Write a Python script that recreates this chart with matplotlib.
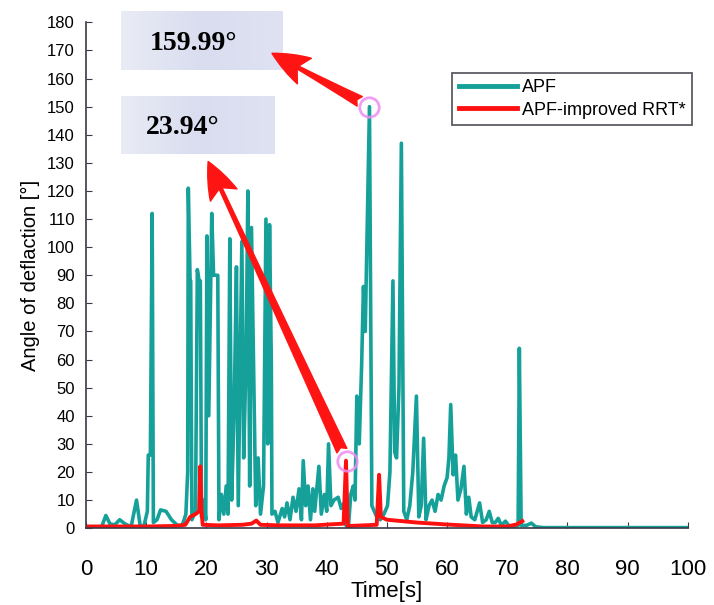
import numpy as np
import matplotlib.pyplot as plt
from matplotlib.colors import LinearSegmentedColormap

# APF curve (time in s, deflection angle in deg)
apf_t = [0, 1.5, 2.6, 3.3, 4.0, 4.8, 5.6, 6.5, 7.5, 8.4, 9.0, 9.6, 10.2, 10.35,
         10.7, 11.0, 11.2, 11.8, 12.4, 13.3, 14.2, 15.2, 16.0, 16.6, 16.9, 17.0,
         17.3, 17.4, 17.6, 18.2, 18.5, 18.8, 19.0, 19.2, 19.6, 19.9, 20.1, 20.4,
         20.9, 21.2, 21.9, 22.1, 22.5, 22.9, 23.3, 23.6, 23.9, 24.2, 24.6, 25.0,
         25.3, 25.9, 26.2, 26.6, 26.9, 27.2, 27.5, 27.9, 28.2, 28.6, 29.0, 29.5,
         29.9, 30.2, 30.5, 30.8, 30.9, 31.4, 31.9, 32.6, 33.0, 33.4, 33.9, 34.4,
         34.9, 35.4, 35.8, 36.1, 36.5, 36.9, 37.3, 37.7, 38.0, 38.7, 39.1, 39.6,
         40.0, 40.3, 40.7, 41.2, 41.9, 42.4, 42.9, 43.2, 43.6, 44.0, 44.4, 44.7,
         45.0, 45.4, 45.8, 46.1, 46.4, 47.1, 47.5, 47.9, 48.3, 48.9, 49.5, 50.1,
         50.5, 51.0, 51.3, 51.6, 52.0, 52.4, 52.8, 53.3, 53.8, 54.3, 54.9, 55.3,
         55.7, 56.1, 56.5, 57.0, 57.5, 58.0, 58.5, 59.0, 59.5, 60.0, 60.3, 60.6,
         61.0, 61.4, 61.8, 62.3, 62.8, 63.2, 63.6, 64.0, 64.6, 65.4, 65.9, 66.5,
         67.0, 67.5, 68.0, 68.5, 69.0, 69.7, 70.2, 71.0, 71.8, 72.0, 72.3, 73.2,
         74.0, 74.7, 76.0, 100]
apf_v = [0.3, 0.5, 0.5, 4.5, 1.5, 1.2, 3, 1.5, 0.5, 10, 1, 0.5, 6, 26,
         26, 112, 2, 3, 6.5, 6, 3, 1, 1, 5, 20, 121,
         88, 88, 3, 6, 92, 88, 88, 4, 10, 3, 104, 40,
         112, 90, 90, 3, 12, 5, 15, 5, 103, 10, 40, 93,
         8, 102, 25, 60, 120, 15, 107, 50, 8, 25, 5, 15,
         110, 30, 108, 58, 5, 6, 2, 7, 4, 9, 3, 11,
         6, 14, 3, 24, 8, 15, 3, 14, 6, 22, 5, 12,
         6, 30, 8, 10, 11, 7, 9, 1, 0.5, 12, 15, 10,
         47, 30, 58, 86, 70, 150, 8, 6, 4, 3, 5, 8,
         20, 88, 27, 25, 50, 137, 6, 3, 8, 20, 47, 4,
         8, 32, 3, 8, 10, 6, 12, 10, 15, 18, 25, 44,
         19, 26, 10, 14, 22, 5, 11, 4, 3, 9, 2, 3,
         6, 2, 2, 3.5, 1, 2.5, 1, 0.5, 1, 64, 1, 1,
         1.8, 0.5, 0.2, 0.2]

# APF-improved RRT* curve
rrt_t = [0, 10, 15, 16.5, 17.3, 18.2, 18.8, 19.0, 19.2, 19.4, 22, 26, 27.5,
         28.3, 29, 32, 38, 41, 42.8, 43.2, 43.5, 44, 48.3, 48.7, 49, 50, 55,
         60, 66, 70, 71.5, 72.5]
rrt_v = [0.6, 0.6, 0.8, 1.2, 4, 5, 6, 22, 6, 1.2, 1.0, 1.2, 1.6,
         2.7, 1.2, 1.0, 1.0, 1.4, 1.6, 24, 0.5, 0.8, 1.2, 19, 4, 3, 2,
         1.3, 0.6, 0.6, 1.3, 2.5]

# marked points and their labels
peak_apf = (47.1, 150)
peak_rrt = (43.3, 24)
label_apf = "159.99°"
label_rrt = "23.94°"

plt.rcParams["font.family"] = ["Liberation Sans", "DejaVu Sans"]

fig = plt.figure(figsize=(7.14, 6.05), dpi=100)
ax = fig.add_axes([0.1204, 0.127, 0.843, 0.836])

ax.plot(apf_t, apf_v, color="#15a19a", linewidth=2.6, label="APF")
ax.plot(rrt_t, rrt_v, color="#ff1010", linewidth=2.8, label="APF-improved RRT*")

ax.set_xlim(0, 100)
ax.set_ylim(0, 180)
ax.set_xticks(np.arange(0, 101, 10))
ax.set_yticks(np.arange(0, 181, 10))
ax.spines["top"].set_visible(False)
ax.spines["right"].set_visible(False)
for s in ["left", "bottom"]:
    ax.spines[s].set_color("#3a3a46")
    ax.spines[s].set_linewidth(1.2)
ax.tick_params(axis="both", direction="in", length=4, color="#3a3a46")
ax.tick_params(axis="x", labelsize=16, pad=22)
ax.tick_params(axis="y", labelsize=12, pad=8)
ax.set_xlabel("Time[s]", fontsize=16, labelpad=1)
ax.set_ylabel("Angle of deflaction [°]", fontsize=14.5, labelpad=5)

leg = ax.legend(loc="upper right", bbox_to_anchor=(1.022, 0.918), fontsize=13,
                handlelength=3.2, frameon=True, fancybox=False,
                borderpad=0.35, labelspacing=0.3, handletextpad=0.3)
leg.get_frame().set_edgecolor("#33333d")
leg.get_frame().set_linewidth(1.3)
for h in leg.get_lines():
    h.set_linewidth(3.5)

# lavender label boxes
grad = LinearSegmentedColormap.from_list("box", ["#e9ebf5", "#d9ddef", "#dfe2f2"])
g = np.linspace(0, 1, 64).reshape(1, -1)
ax.imshow(g, cmap=grad, extent=(5.9, 32.7, 163, 183.7), aspect="auto",
          clip_on=False, zorder=3)
ax.imshow(g, cmap=grad, extent=(5.9, 31.4, 133, 153.5), aspect="auto",
          clip_on=False, zorder=3)
ax.set_xlim(0, 100)
ax.set_ylim(0, 180)

ax.text(17.8, 172.5, label_apf, fontsize=20, fontweight="bold",
        family="Liberation Serif", ha="center", va="center", zorder=4,
        clip_on=False)
ax.text(16.0, 142.5, label_rrt, fontsize=20, fontweight="bold",
        family="Liberation Serif", ha="center", va="center", zorder=4)

# pink circles on the marked points
for px, py in [peak_apf, peak_rrt]:
    ax.plot(px, py, "o", markersize=14, mfc="none", mec="#f08cf3", mew=2,
            alpha=0.85, zorder=5)

arrow = dict(arrowstyle="fancy,head_length=0.95,head_width=0.75,tail_width=0.28",
             color="#ff1414", mutation_scale=28, shrinkA=8, shrinkB=0)
ax.annotate("", xy=(30.9, 169), xytext=peak_apf, arrowprops=arrow, zorder=6,
            annotation_clip=False)
ax.annotate("", xy=(20.3, 130.5), xytext=peak_rrt, arrowprops=arrow, zorder=6)

fig.savefig("out.png", dpi=100)
